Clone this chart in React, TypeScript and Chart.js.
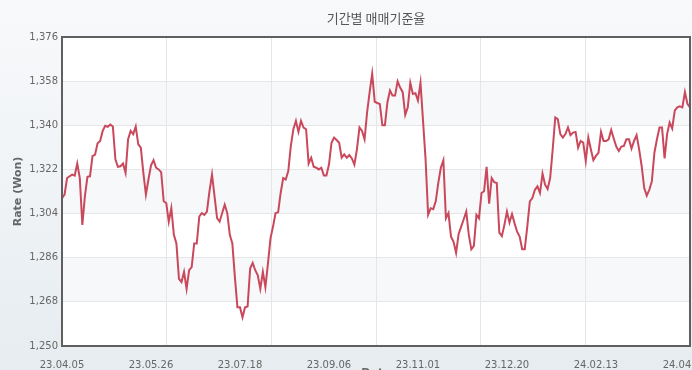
import React, { useEffect, useRef } from "react";
import { Chart, registerables } from "chart.js";

Chart.register(...registerables);

const TITLE = "기간별 매매기준율";
const Y_TITLE = "Rate (Won)";
const X_TITLE = "Date";

const tickLabels = ["23.04.05", "23.05.26", "23.07.18", "23.09.06", "23.11.01", "23.12.20", "24.02.13", "24.04.05"];
const LABEL_STEP = 35;
const yTicks = [1250, 1268, 1286, 1304, 1322, 1340, 1358, 1376];
const bandRanges = [[1268, 1286], [1304, 1322], [1340, 1358]];
const GRID_DIVISIONS = 6;

const rates = [
  1310.3, 1311.7, 1318.5, 1319.2, 1319.9, 1319.5, 1324.4, 1318.5, 1299.4, 1311, 1319, 1319.2, 1327.4, 1328, 1332.7,
  1333.6, 1337.7, 1339.8, 1339.4, 1340.3, 1339.5, 1326.1, 1323.1, 1323.3, 1324.4, 1320.6, 1334.3, 1337.7, 1336.4,
  1339.5, 1332.2, 1330.9, 1320.6, 1311.7, 1317.9, 1323.6, 1325.8, 1322.7, 1322, 1320.9, 1309, 1308.3, 1300.7,
  1306.2, 1295.3, 1291.8, 1277.4, 1276.1, 1280.2, 1273.3, 1280.9, 1282.2, 1291.8, 1291.8, 1302.8, 1304.2, 1303.5,
  1304.8, 1313.1, 1319.9, 1311, 1302.1, 1300.7, 1304.2, 1307.6, 1304.2, 1295.3, 1291.8, 1278.1, 1265.8, 1265.8,
  1261.7, 1265.8, 1266.1, 1281.6, 1283.9, 1280.9, 1278.8, 1273.3, 1280.2, 1274, 1283.6, 1293.9, 1298.7,
  1304.2, 1304.5, 1312.4, 1318.5, 1317.9, 1321.3, 1331.6, 1338.4, 1341.8, 1337.3, 1341.8, 1339.1, 1338.4, 1324.4,
  1326.8, 1323.1, 1322.7, 1322, 1322.7, 1319.5, 1319.5, 1324, 1332.9, 1335, 1334, 1332.9, 1326.8, 1328.1, 1326.8,
  1327.9, 1326.5, 1324, 1330.2, 1339.1, 1337.7, 1334.3, 1345.3, 1353.5, 1361, 1349.6, 1349.1, 1348.7,
  1340, 1340, 1349.4, 1354.2, 1352.1, 1352.1, 1357.9, 1355.4, 1353.5, 1344.2, 1347.3, 1357.3, 1352.8, 1353.1,
  1350.1, 1357.3, 1341.8, 1326.1, 1303.5, 1306.2, 1305.8, 1309, 1316.5, 1322.7, 1325.7, 1302.1, 1304.2, 1294.6,
  1292.5, 1288, 1295.7, 1298.7, 1301.7, 1304.8, 1295.3, 1289.4, 1290.8, 1303.5, 1302.1, 1312.4, 1313.1,
  1323.1, 1308, 1318.5, 1316.8, 1316.5, 1296.2, 1294.8, 1299.4, 1304.8, 1300.3, 1303.8, 1300, 1296.6, 1294.6,
  1289.5, 1289.5, 1298.7, 1309, 1310.3, 1313.7, 1315.1, 1312.4, 1320.3, 1315.8, 1314, 1318.5, 1330.2, 1343.2,
  1342.5, 1336.4, 1335, 1336.4, 1339.1, 1336, 1337, 1337.3, 1330.9, 1333.6, 1332.9, 1325.4, 1335, 1330.2,
  1325.8, 1327.5, 1328.8, 1337.3, 1333.6, 1333.6, 1334.3, 1338.1, 1334.6, 1331.3, 1329.5, 1331.3, 1331.6, 1334.3,
  1334.3, 1330.5, 1333.6, 1336, 1330.2, 1323.3, 1314.4, 1311.3, 1313.7, 1317.2, 1328.8, 1334.3, 1339.1, 1339.1,
  1326.5, 1336.4, 1341.1, 1338.7, 1346, 1347.3, 1347.7, 1347.3, 1353.5, 1348.7, 1347.3,
];

const LINE_COLOR = "#c9485c";
const FONT = "'DejaVu Sans', Verdana, sans-serif";

const decorPlugin = {
  id: "decor",
  beforeDraw(chart: any) {
    const { ctx, chartArea: a, scales } = chart;
    ctx.save();
    ctx.fillStyle = "#ffffff";
    ctx.fillRect(a.left, a.top, a.right - a.left, a.bottom - a.top);
    ctx.fillStyle = "#f7f8fa";
    for (const [lo, hi] of bandRanges) {
      const y1 = scales.y.getPixelForValue(hi);
      const y2 = scales.y.getPixelForValue(lo);
      ctx.fillRect(a.left, y1, a.right - a.left, y2 - y1);
    }
    ctx.restore();
  },
  afterDraw(chart: any) {
    const { ctx, chartArea: a } = chart;
    ctx.save();
    ctx.strokeStyle = "#5f5f5f";
    ctx.lineWidth = 2;
    ctx.strokeRect(a.left, a.top, a.right - a.left, a.bottom - a.top);

    const cx = (a.left + a.right) / 2;
    ctx.fillStyle = "#555555";
    ctx.font = "13px 'Noto Sans CJK KR', sans-serif";
    ctx.textAlign = "center";
    ctx.textBaseline = "middle";
    ctx.fillText(TITLE, cx, 18);

    ctx.font = `bold 11px ${FONT}`;
    ctx.fillStyle = "#666666";
    ctx.translate(18, (a.top + a.bottom) / 2);
    ctx.rotate(-Math.PI / 2);
    ctx.fillText(Y_TITLE, 0, 0);
    ctx.restore();

    ctx.save();
    ctx.font = `bold 11px ${FONT}`;
    ctx.fillStyle = "#666666";
    ctx.textAlign = "center";
    ctx.textBaseline = "top";
    ctx.fillText(X_TITLE, cx, 368);
    ctx.restore();
  },
};

export default function App() {
  const ref = useRef<HTMLCanvasElement>(null);
  useEffect(() => {
    const chart = new Chart(ref.current as HTMLCanvasElement, {
      type: "line",
      data: {
        datasets: [
          {
            data: rates.map((v, i) => ({ x: i, y: v })),
            borderColor: LINE_COLOR,
            borderWidth: 2,
            pointRadius: 0,
            tension: 0,
            fill: false,
          },
        ],
      },
      options: {
        responsive: false,
        animation: false,
        events: [],
        layout: { padding: { top: 37, right: 2, left: 0, bottom: 0 } },
        plugins: { legend: { display: false }, tooltip: { enabled: false }, title: { display: false } },
        scales: {
          x: {
            type: "linear",
            position: "bottom",
            min: 0,
            max: rates.length - 1,
            grid: { display: false },
            border: { display: false },
            afterBuildTicks: (s: any) => {
              s.ticks = tickLabels.map((_, i) => ({ value: i * LABEL_STEP }));
            },
            afterFit: (s: any) => {
              s.height = 24;
              s.paddingLeft = 0;
              s.paddingRight = 0;
            },
            ticks: {
              autoSkip: false,
              maxRotation: 0,
              padding: 5,
              color: "#666666",
              font: { family: FONT, size: 10 },
              callback: (_v: any, i: number) => tickLabels[i],
            },
          },
          xg: {
            type: "linear",
            position: "bottom",
            min: 0,
            max: GRID_DIVISIONS,
            grid: { color: "#e6e6e6", lineWidth: 1, drawTicks: false },
            border: { display: false },
            ticks: { display: false, stepSize: 1 },
            afterFit: (s: any) => {
              s.height = 0;
              s.paddingLeft = 0;
              s.paddingRight = 0;
            },
          },
          y: {
            type: "linear",
            min: yTicks[0],
            max: yTicks[yTicks.length - 1],
            grid: { color: "#e6e6e6", lineWidth: 1, drawTicks: false },
            border: { display: false },
            afterBuildTicks: (s: any) => {
              s.ticks = yTicks.map((v) => ({ value: v }));
            },
            afterFit: (s: any) => {
              s.width = 62;
            },
            ticks: {
              padding: 4,
              color: "#666666",
              font: { family: FONT, size: 10 },
              callback: (v: any) => Number(v).toLocaleString("en-US"),
            },
          },
        },
      },
      plugins: [decorPlugin],
    } as any);
    return () => chart.destroy();
  }, []);

  return (
    <div
      style={{
        position: "absolute",
        left: 0,
        top: 0,
        width: 692,
        height: 370,
        overflow: "hidden",
        background: "linear-gradient(to bottom, #f8f9fb 0%, #eef2f5 60%, #e6ecf0 100%)",
      }}
    >
      <canvas ref={ref} width={692} height={370} style={{ display: "block", width: 692, height: 370 }} />
    </div>
  );
}
